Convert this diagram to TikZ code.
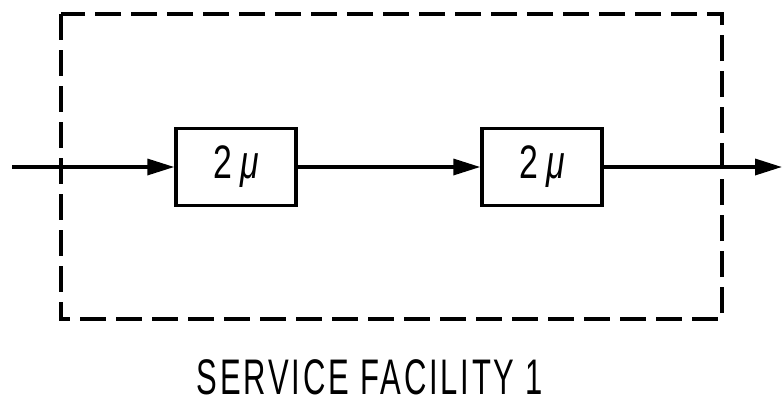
\documentclass[tikz,border=0pt]{standalone}
\usepackage{fontspec}
\setmainfont{Liberation Sans}
\newfontfamily\spaced[LetterSpace=9]{Liberation Sans}
\usetikzlibrary{arrows.meta}
\tikzset{
  stage/.style={draw, line width=3.4pt, minimum width=120pt, minimum height=77pt, inner sep=0pt},
  flow/.style={line width=3.4pt, -{Triangle[length=27pt,width=16pt]}},
  facility/.style={line width=3.8pt, dash pattern=on 26pt off 10pt}
}
\newcommand{\condensed}[2]{\scalebox{#1}[1]{#2}}
\begin{document}
\begin{tikzpicture}[x=1pt,y=-1pt]
  \useasboundingbox (0,0) rectangle (782,405);
  % enclosing facility boundary
  \draw[facility] (61,14) rectangle (722,319);
  % the two service stages
  \node[stage] (s1) at (236,167) {\fontsize{47}{47}\selectfont\condensed{0.72}{2\hspace{12pt}\textit{μ}}};
  \node[stage] (s2) at (542,167) {\fontsize{47}{47}\selectfont\condensed{0.72}{2\hspace{12pt}\textit{μ}}};
  \coordinate (in) at (12,167);
  \coordinate (out) at (782,167);
  \draw[flow] (in) -- (s1.west);
  \draw[flow] (s1.east) -- (s2.west);
  \draw[flow] (s2.east) -- (out);
  % caption
  \node[anchor=base, inner sep=0pt, text depth=0pt] (cap) at (370,394)
    {\fontsize{50}{50}\selectfont\spaced\condensed{0.62}{SERVICE FACILITY 1}};
\end{tikzpicture}
\end{document}
